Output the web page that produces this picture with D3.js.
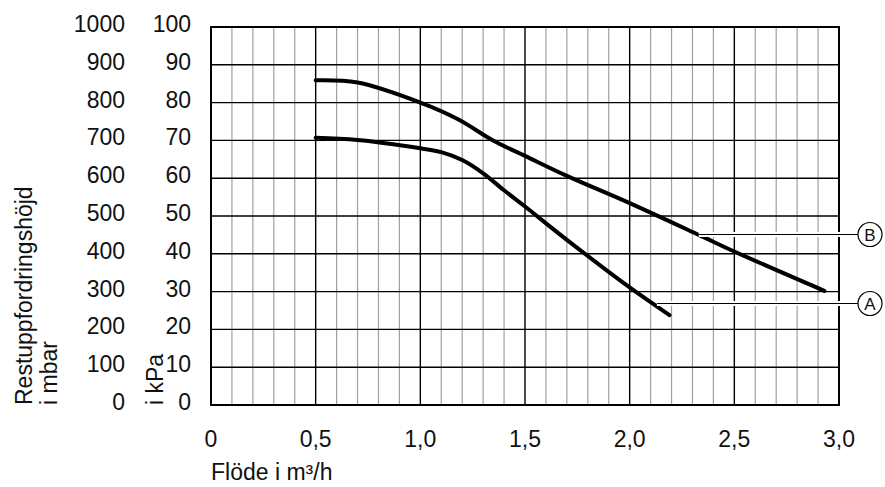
<!DOCTYPE html>
<html>
<head>
<script src="https://cdn.jsdelivr.net/npm/d3@7"></script>
<style>
  body { margin: 0; background: #fff; }
  text { font-family: "Liberation Sans", Arial, sans-serif; fill: #111; }
</style>
</head>
<body>
<div id="viz"></div>
<script>
// pump curves (flow m3/h, head kPa)
var flowB = [0.5, 0.7, 1.0, 1.18, 1.35, 1.5, 1.7, 2.0, 2.33, 2.5, 2.93];
var headB = [85.9, 85.3, 80.0, 75.6, 69.9, 65.9, 60.6, 53.4, 45.0, 40.6, 30.2];
var flowA = [0.5, 0.7, 1.0, 1.1, 1.2, 1.3, 1.4, 1.5, 1.7, 2.0, 2.19];
var headA = [70.7, 70.1, 67.9, 66.9, 64.8, 61.3, 56.8, 52.5, 43.7, 31.1, 23.8];

var xTicks = [0, 0.5, 1.0, 1.5, 2.0, 2.5, 3.0];
var kpaTicks = [0, 10, 20, 30, 40, 50, 60, 70, 80, 90, 100];
var mbarTicks = [0, 100, 200, 300, 400, 500, 600, 700, 800, 900, 1000];

// leader lines: where they touch the curve
var labels = [
  {name: "B", flow: 2.33, head: 45.2},
  {name: "A", flow: 2.13, head: 26.9}
];

var W = 885, H = 487;
var svg = d3.select("#viz").append("svg")
    .attr("width", W)
    .attr("height", H);

var x = d3.scaleLinear().domain([0, 3]).range([211, 839]);
var y = d3.scaleLinear().domain([0, 100]).range([405, 27]);

var grid = svg.append("g");

// minor verticals every 0.1
grid.selectAll("line.minor")
    .data(d3.range(1, 30).filter(function(i){ return i % 5 != 0; }))
    .enter().append("line")
    .attr("x1", function(i){ return x(i / 10); })
    .attr("x2", function(i){ return x(i / 10); })
    .attr("y1", y(0)).attr("y2", y(100))
    .style("stroke", "#a0a0a0")
    .style("stroke-width", 1.2);

// major verticals
grid.selectAll("line.vmaj")
    .data(xTicks)
    .enter().append("line")
    .attr("x1", function(d){ return x(d); })
    .attr("x2", function(d){ return x(d); })
    .attr("y1", y(0)).attr("y2", y(100))
    .style("stroke", "#000")
    .style("stroke-width", 1.4);

// horizontals
grid.selectAll("line.hmaj")
    .data(kpaTicks)
    .enter().append("line")
    .attr("x1", x(0)).attr("x2", x(3))
    .attr("y1", function(d){ return y(d); })
    .attr("y2", function(d){ return y(d); })
    .style("stroke", "#000")
    .style("stroke-width", 1.4);

// outer frame
svg.append("rect")
    .attr("x", x(0)).attr("y", y(100))
    .attr("width", x(3) - x(0)).attr("height", y(0) - y(100))
    .style("fill", "none")
    .style("stroke", "#000")
    .style("stroke-width", 2);

// curves
var line = d3.line()
    .x(function(d){ return x(d[0]); })
    .y(function(d){ return y(d[1]); })
    .curve(d3.curveCatmullRom.alpha(0.5));

[[flowA, headA], [flowB, headB]].forEach(function(s){
    svg.append("path")
        .datum(d3.zip(s[0], s[1]))
        .attr("d", line)
        .style("fill", "none")
        .style("stroke", "#000")
        .style("stroke-width", 4)
        .style("stroke-linecap", "round");
});

// leaders with a white halo, then circled letters
var cx = 870, r = 12;
labels.forEach(function(l){
    var ly = Math.round(y(l.head)) + 0.5;
    svg.append("line")
        .attr("x1", x(l.flow)).attr("x2", cx - r)
        .attr("y1", ly).attr("y2", ly)
        .style("stroke", "#fff")
        .style("stroke-width", 5);
    svg.append("line")
        .attr("x1", x(l.flow)).attr("x2", cx - r)
        .attr("y1", ly).attr("y2", ly)
        .style("stroke", "#000")
        .style("stroke-width", 1.2);
    svg.append("circle")
        .attr("cx", cx).attr("cy", ly).attr("r", r)
        .style("fill", "#fff")
        .style("stroke", "#000")
        .style("stroke-width", 1.2);
    svg.append("text")
        .attr("x", cx).attr("y", ly + 6)
        .attr("text-anchor", "middle")
        .style("font-size", "17px")
        .text(l.name);
});

// tick labels
var fmt = function(d){ return d === 0 ? "0" : d3.format(".1f")(d).replace(".", ","); };
svg.selectAll("text.xt")
    .data(xTicks)
    .enter().append("text")
    .attr("x", function(d){ return x(d); })
    .attr("y", 447)
    .attr("text-anchor", "middle")
    .style("font-size", "23px")
    .text(fmt);

svg.selectAll("text.kpa")
    .data(kpaTicks)
    .enter().append("text")
    .attr("x", 191)
    .attr("y", function(d){ return y(d) + 5; })
    .attr("text-anchor", "end")
    .style("font-size", "23px")
    .text(function(d){ return d; });

svg.selectAll("text.mbar")
    .data(mbarTicks)
    .enter().append("text")
    .attr("x", 125)
    .attr("y", function(d){ return y(d / 10) + 5; })
    .attr("text-anchor", "end")
    .style("font-size", "23px")
    .text(function(d){ return d; });

// axis titles
svg.append("text")
    .attr("x", 211).attr("y", 480)
    .style("font-size", "23px")
    .text("Flöde i m³/h");

function vtitle(tx, ty, s){
    svg.append("text")
        .attr("transform", "translate(" + tx + "," + ty + ") rotate(-90)")
        .style("font-size", "23px")
        .text(s);
}
vtitle(32, 405, "Restuppfordringshöjd");
vtitle(57, 405, "i mbar");
vtitle(163, 405, "i kPa");
</script>
</body>
</html>
